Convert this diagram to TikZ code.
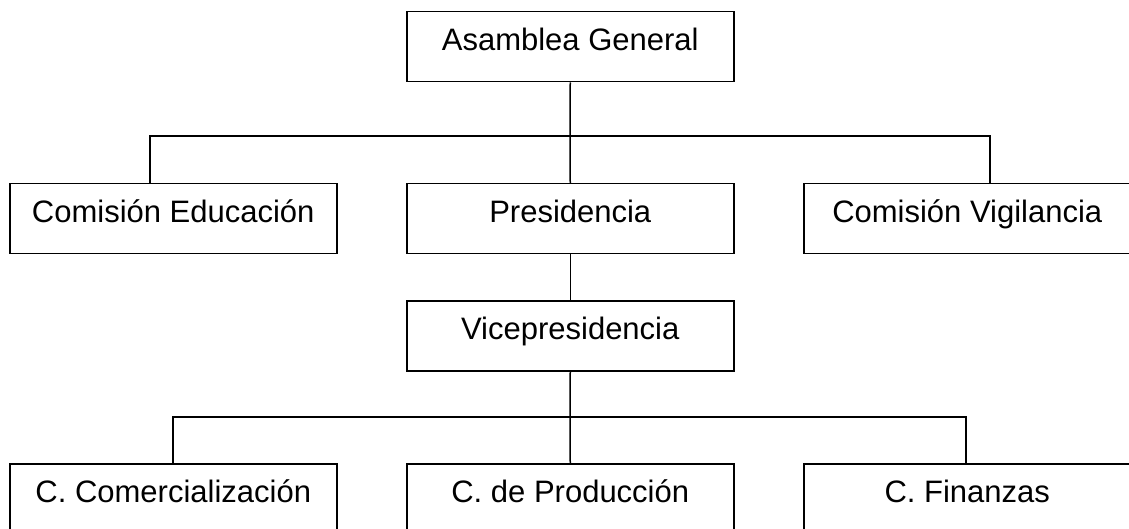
\documentclass[tikz,border=0pt]{standalone}
\usepackage{fontspec}
\setmainfont{Liberation Sans}
\begin{document}
\begin{tikzpicture}[x=1pt,y=-1pt,
  orgbox/.style={draw,line width=1.5pt,anchor=north west,minimum width=327pt,
    inner xsep=0pt,inner ysep=0pt,text height=39pt,text depth=31pt,
    font=\fontsize{31}{37}\selectfont},
  link/.style={line width=1.5pt}]
\useasboundingbox (0,0) rectangle (1129,529);
\node[orgbox] (ag) at (406,11) {Asamblea General};
\node[orgbox] (ce) at (9,183) {Comisión Educación};
\node[orgbox] (pr) at (406,183) {Presidencia};
\node[orgbox] (cv) at (803,183) {Comisión Vigilancia};
\node[orgbox] (vp) at (406,300) {Vicepresidencia};
\node[orgbox] (cc) at (9,463) {C. Comercialización};
\node[orgbox] (cp) at (406,463) {C. de Producción};
\node[orgbox] (cf) at (803,463) {C. Finanzas};
\coordinate (j1) at (570,136);
\coordinate (l1) at (150,136);
\coordinate (r1) at (990,136);
\coordinate (j2) at (570,417);
\coordinate (l2) at (173,417);
\coordinate (r2) at (966,417);
\draw[link] (ag.south) -- (j1);
\draw[link] (ce.north -| l1) -- (l1) -- (r1) -- (cv.north -| r1);
\draw[link] (j1) -- (pr.north);
\draw[link] (pr.south) -- (vp.north);
\draw[link] (vp.south) -- (j2);
\draw[link] (cc.north -| l2) -- (l2) -- (r2) -- (cf.north -| r2);
\draw[link] (j2) -- (cp.north);
\end{tikzpicture}
\end{document}
